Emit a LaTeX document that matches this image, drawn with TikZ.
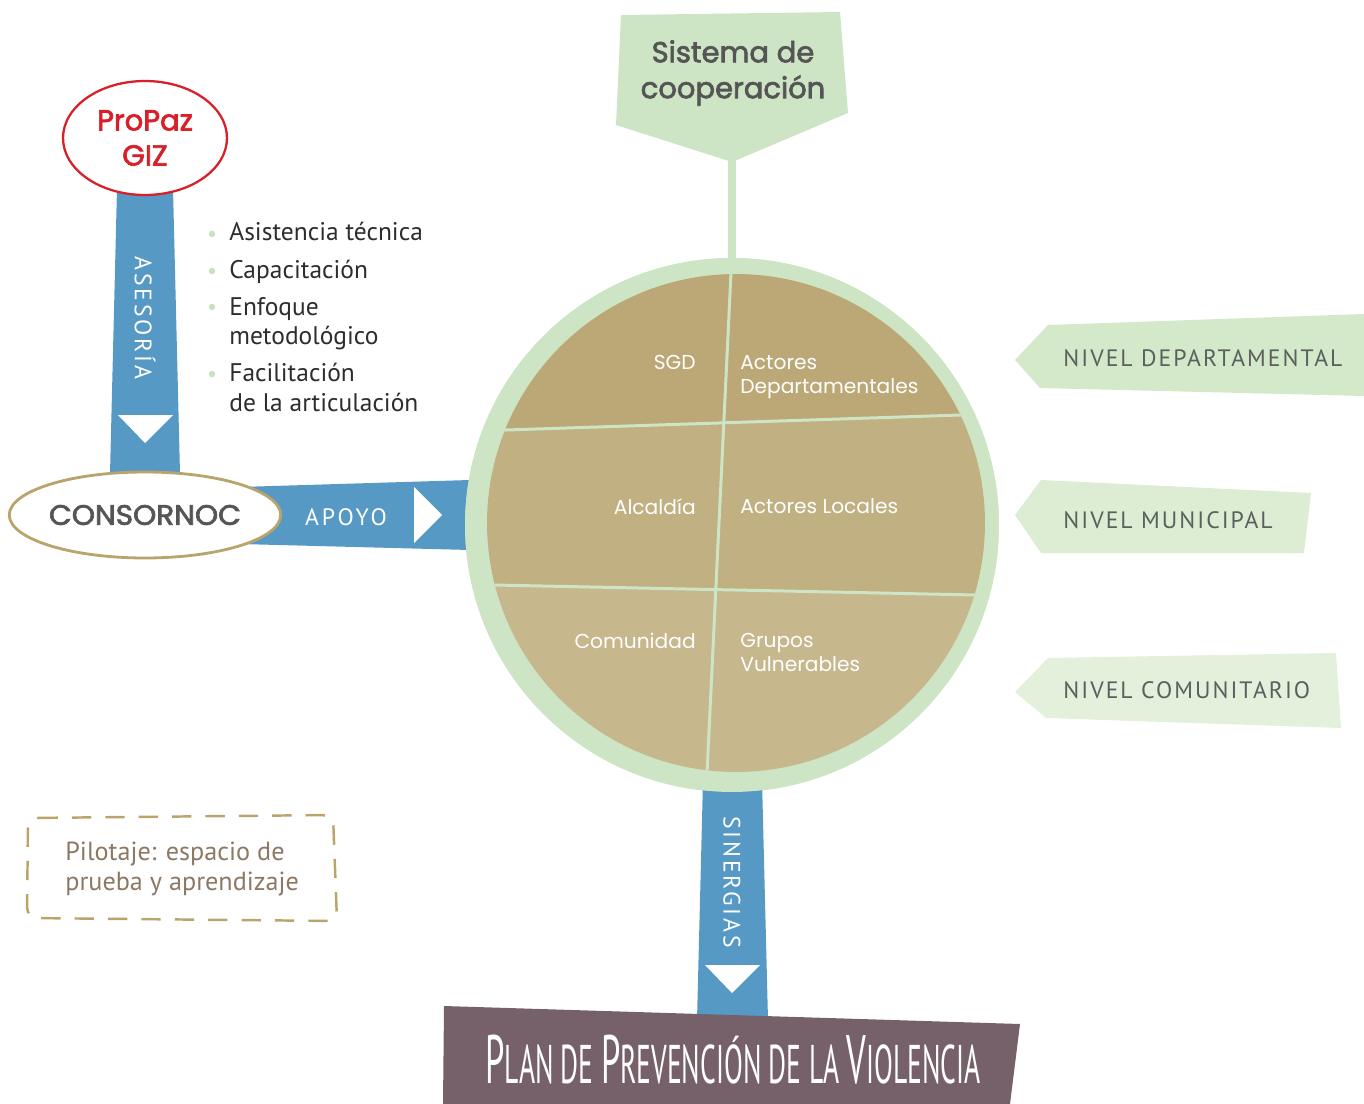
\documentclass[tikz,border=0pt]{standalone}
\usepackage{fontspec}
\usepackage{graphicx}
\setmainfont{PT Sans}
\newfontfamily\mont{Poppins}
\newfontfamily\montsemi[FakeBold=2.4]{Poppins}
\newfontfamily\montwide[FakeBold=2.4,FakeStretch=1.05]{Poppins}
\newfontfamily\spaced[LetterSpace=12]{PT Sans}
\newfontfamily\lvlspaced[LetterSpace=8.5]{PT Sans}
\usepackage{tikz}
\usetikzlibrary{positioning,shapes.geometric}

\definecolor{barblue}{RGB}{85,153,196}
\definecolor{ringgreen}{RGB}{205,229,196}
\definecolor{topcell}{RGB}{187,168,118}
\definecolor{midcell}{RGB}{193,176,130}
\definecolor{lowcell}{RGB}{199,183,141}
\definecolor{propred}{RGB}{215,32,42}
\definecolor{tanline}{RGB}{185,164,107}
\definecolor{darktext}{RGB}{85,85,85}
\definecolor{lvltext}{RGB}{90,96,92}
\definecolor{lvlone}{RGB}{212,233,202}
\definecolor{lvltwo}{RGB}{220,237,211}
\definecolor{lvlthree}{RGB}{227,240,220}
\definecolor{plancolor}{RGB}{118,97,106}
\definecolor{pilottext}{RGB}{140,120,100}
\definecolor{dotgreen}{RGB}{200,226,190}
\definecolor{bodytext}{RGB}{45,45,45}

\newcommand{\lowpart}[1]{{\fontsize{31}{31}\selectfont #1}}

\begin{document}
\begin{tikzpicture}[
    x=0.02cm, y=-0.02cm,
    bar/.style={fill=barblue},
    bartext/.style={text=white, font=\spaced\fontsize{13.5}{16}\selectfont},
    arrowhead/.style={fill=white},
    oval/.style={ellipse, fill=white, inner sep=0pt},
    cell/.style={text=white, inner sep=0pt, align=left, font=\mont\fontsize{11.5}{13.6}\selectfont},
    divider/.style={draw=ringgreen, line width=1.7pt},
    level/.style={text=lvltext, anchor=west, inner sep=0pt, font=\lvlspaced\fontsize{13.5}{16}\selectfont},
    item/.style={text=bodytext, anchor=north west, inner sep=0pt, align=left, font=\fontsize{14.5}{16.8}\selectfont},
    dot/.style={circle, fill=dotgreen, inner sep=0pt, minimum size=0.13cm}
]
\useasboundingbox (0,0) rectangle (1364,1104);

% Left side: ProPaz and CONSORNOC
\fill[bar] (117,188) -- (173,188) -- (180,474) -- (110,474) -- cycle;
\node[bartext, rotate=-90] (asesoria) at (145,318) {ASESORÍA};
\fill[arrowhead] (118,415) -- (173,415) -- (145,443) -- cycle;

\fill[bar] (240,487) -- (470,480) -- (470,550) -- (240,544) -- cycle;
\node[bartext] (apoyo) at (346,517) {APOYO};
\fill[arrowhead] (414,487) -- (414,543) -- (442,515) -- cycle;

\node[oval, draw=propred, line width=1.3pt, minimum width=3.28cm, minimum height=2.28cm,
      text=propred, align=center, font=\montsemi\fontsize{16.5}{20}\selectfont] (propaz) at (145,138) {ProPaz\\GIZ};
\node[oval, draw=tanline, line width=1.6pt, minimum width=5.32cm, minimum height=1.72cm,
      text=darktext, font=\montwide\fontsize{16}{18}\selectfont] (consornoc) at (145,515) {CONSORNOC};

% Bullet list
\node[dot] (d1) at (212,234) {};
\node[dot] (d2) at (212,271) {};
\node[dot] (d3) at (212,307) {};
\node[dot] (d4) at (212,374) {};
\node[item] (asistencia) at (229,222) {Asistencia técnica};
\node[item] (capacitacion) at (229,260) {Capacitación};
\node[item] (enfoque) at (229,297) {Enfoque\\metodológico};
\node[item] (facilitacion) at (229,363) {Facilitación\\de la articulación};

% Top: Sistema de cooperacion
\coordinate (systip) at (732,158);
\node[circle, fill=ringgreen, minimum size=10.68cm, inner sep=0pt] (ring) at (732,525) {};
\draw[ringgreen, line width=5pt] (systip) -- (ring.north);
\fill[ringgreen] (621,15) -- (840,12) -- (848,113) -- (732,162) -- (616,125) -- cycle;
\node[text=darktext, align=center, font=\montsemi\fontsize{16.5}{20.4}\selectfont] (sistema) at (733,73) {Sistema de\\cooperación};

% Bottom bar
\fill[bar] (703,780) -- (762,780) -- (768,1020) -- (697,1020) -- cycle;
\node[bartext, rotate=-90] (sinergias) at (732,882) {SINERGIAS};
\fill[arrowhead] (705,965) -- (760,965) -- (732,993) -- cycle;

% Ring redrawn over the bars
\node[circle, fill=ringgreen, minimum size=10.68cm, inner sep=0pt] at (732,525) {};

% Disk with six cells
\begin{scope}
\clip (736,523) circle [radius=4.98cm];
\fill[topcell] (470,250) -- (1000,250) -- (1000,413.7) -- (470,431.2) -- cycle;
\fill[midcell] (470,431.2) -- (1000,413.7) -- (1000,595.5) -- (470,584.5) -- cycle;
\fill[lowcell] (470,584.5) -- (1000,595.5) -- (1000,800) -- (470,800) -- cycle;
\draw[divider] (470,431.2) -- (1000,413.7);
\draw[divider] (470,584.5) -- (1000,595.5);
\draw[divider] (731.6,260) -- (706.2,790);
\end{scope}
\node[circle, minimum size=9.96cm, inner sep=0pt] (disk) at (736,523) {};

\node[cell, anchor=north east] (sgd) at (696,355) {SGD};
\node[cell, anchor=north west] (actdep) at (740,355) {Actores\\Departamentales};
\node[cell, anchor=north east] (alcaldia) at (696,498) {Alcaldía};
\node[cell, anchor=north west] (actloc) at (740,498) {Actores Locales};
\node[cell, anchor=north east] (comunidad) at (696,633) {Comunidad};
\node[cell, anchor=north west] (grupos) at (740,633) {Grupos\\Vulnerables};

% Right side: levels
\fill[lvlone] (1015,360) -- (1048,325) -- (1364,314) -- (1364,396) -- (1040,388) -- cycle;
\fill[lvltwo] (1015,515) -- (1041,480) -- (1311,493) -- (1304,553) -- (1041,553) -- cycle;
\fill[lvlthree] (1015,692) -- (1048,658) -- (1336,653) -- (1341,728) -- (1046,718) -- cycle;
\node[level] (departamental) at (1063,358) {NIVEL DEPARTAMENTAL};
\node[level] (municipal) at (1063,520) {NIVEL MUNICIPAL};
\node[level] (comunitario) at (1063,690) {NIVEL COMUNITARIO};

% Pilotaje
\draw[tanline, line width=1.4pt, dash pattern=on 11pt off 8pt, rounded corners=6pt]
    (28,818) -- (333,815) -- (337,921) -- (27,918) -- cycle;
\node[anchor=north west, inner sep=0pt, align=left, text=pilottext, font=\fontsize{14.9}{17}\selectfont] (pilotaje) at (65,842) {Pilotaje: espacio de\\prueba y aprendizaje};

% Plan
\fill[plancolor] (444,1006) -- (1020,1024) -- (1010,1104) -- (443,1104) -- cycle;
\node[anchor=base, text=white, inner sep=0pt] (plan) at (733,1083)
    {\resizebox{282pt}{\height}{\fontsize{39}{39}\selectfont P\lowpart{LAN DE }P\lowpart{REVENCIÓN DE LA }V\lowpart{IOLENCIA}}};

\end{tikzpicture}
\end{document}
